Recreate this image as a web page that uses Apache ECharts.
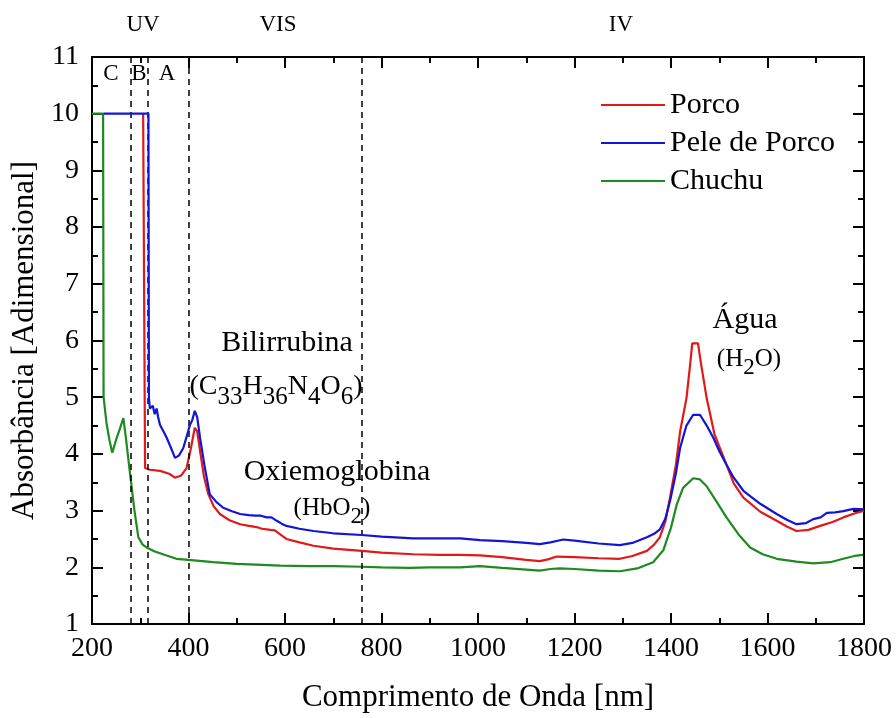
<!DOCTYPE html>
<html><head><meta charset="utf-8">
<script src="https://cdn.jsdelivr.net/npm/echarts@6/dist/echarts.min.js"></script>
<style>html,body{margin:0;padding:0;background:#fff}#c{width:896px;height:718px}</style>
</head><body><div id="c"></div>
<script>
// ---- data ----
const porcoX = [306,306,310,320,341,360,372,385,396,405,413,418,424,432,441,452,465,485,507,525,541,552,562,570,579,590,603,630,659,700,759,800,866,920,963,1004,1050,1100,1128,1145,1163,1200,1250,1294,1320,1350,1365,1377,1388,1398,1410,1419,1432,1440,1444,1456,1462,1474,1490,1515,1530,1550,1585,1619,1640,1660,1685,1709,1735,1757,1780,1800];
const porcoY = [10,10,3.75,3.72,3.70,3.65,3.58,3.62,3.75,4.10,4.46,4.40,4.05,3.60,3.29,3.08,2.94,2.83,2.76,2.73,2.71,2.68,2.67,2.66,2.65,2.58,2.50,2.44,2.38,2.33,2.29,2.26,2.23,2.22,2.22,2.21,2.18,2.13,2.11,2.14,2.19,2.18,2.16,2.15,2.20,2.29,2.40,2.53,2.80,3.23,3.80,4.40,4.98,5.60,5.95,5.95,5.60,4.98,4.35,3.81,3.48,3.23,2.98,2.82,2.72,2.64,2.66,2.73,2.80,2.88,2.95,3.00];
const peleX = [224,317,318,320,326,330,334,337,341,348,355,364,372,380,389,396,403,408,413,418,424,434,444,458,472,490,507,525,538,550,562,572,583,593,603,630,659,700,759,800,866,920,963,1004,1050,1100,1128,1150,1177,1200,1250,1294,1320,1350,1365,1377,1388,1398,1410,1419,1432,1446,1460,1474,1488,1500,1515,1530,1550,1585,1619,1640,1660,1680,1695,1710,1723,1740,1757,1778,1800];
const peleY = [10,10,4.98,4.80,4.85,4.70,4.80,4.65,4.51,4.40,4.28,4.10,3.93,3.97,4.10,4.30,4.51,4.60,4.76,4.65,4.28,3.75,3.29,3.15,3.05,2.99,2.94,2.92,2.91,2.91,2.88,2.88,2.82,2.77,2.73,2.68,2.64,2.60,2.57,2.54,2.51,2.51,2.51,2.48,2.46,2.43,2.41,2.44,2.49,2.47,2.42,2.39,2.43,2.53,2.59,2.67,2.85,3.17,3.65,4.11,4.50,4.69,4.69,4.50,4.28,4.05,3.81,3.58,3.35,3.12,2.94,2.84,2.76,2.78,2.85,2.88,2.96,2.97,2.99,3.03,3.02];
const chuchuX = [200,223,224,230,236,242,250,258,265,270,279,288,296,305,313,330,350,375,400,451,500,590,650,700,759,800,858,860,900,963,1004,1050,1100,1128,1150,1170,1200,1250,1294,1330,1363,1384,1400,1412,1425,1446,1460,1474,1495,1515,1540,1564,1590,1619,1660,1695,1730,1757,1780,1798];
const chuchuY = [10,10,5.0,4.55,4.25,4.02,4.25,4.45,4.63,4.30,3.64,3.00,2.53,2.40,2.35,2.28,2.22,2.15,2.13,2.09,2.06,2.03,2.02,2.02,2.01,2.00,1.99,2.00,2.00,2.00,2.02,1.99,1.96,1.94,1.97,1.98,1.97,1.94,1.93,1.98,2.09,2.30,2.70,3.11,3.40,3.57,3.55,3.43,3.15,2.88,2.58,2.35,2.23,2.15,2.10,2.07,2.09,2.15,2.20,2.22];
const regionLines = [280, 315, 400, 760];
const seriesNames = ['Porco', 'Pele de Porco', 'Chuchu'];

const pairs = (xs, ys) => xs.map((x, i) => [x, ys[i]]);
const FONT = 'Liberation Serif';
const chart = echarts.init(document.getElementById('c'), null, {renderer: 'canvas'});

const axisCommon = {
  axisLine: {show: true, onZero: false, lineStyle: {color: '#000', width: 2}},
  axisTick: {show: true, inside: true, length: 11, lineStyle: {color: '#000', width: 2}},
  minorTick: {show: true, splitNumber: 2, length: 6, lineStyle: {color: '#000', width: 2}},
  splitLine: {show: false}
};

chart.setOption({
  animation: false,
  backgroundColor: '#fff',
  grid: {left: 92, right: 32, top: 57, bottom: 92, containLabel: false},
  xAxis: [
    Object.assign({type: 'value', min: 200, max: 1800, interval: 200, position: 'bottom',
      name: 'Comprimento de Onda [nm]', nameLocation: 'middle', nameGap: 58,
      nameTextStyle: {fontFamily: FONT, fontSize: 31, color: '#000'},
      axisLabel: {fontFamily: FONT, fontSize: 28, color: '#000', margin: 11, formatter: v => String(v)}}, axisCommon),
    Object.assign({type: 'value', min: 200, max: 1800, interval: 200, position: 'top',
      axisLabel: {show: false}}, axisCommon)
  ],
  yAxis: [
    Object.assign({type: 'value', min: 1, max: 11, interval: 1, position: 'left',
      name: 'Absorbância [Adimensional]', nameLocation: 'middle', nameGap: 44,
      nameTextStyle: {fontFamily: FONT, fontSize: 31, color: '#000'},
      axisLabel: {fontFamily: FONT, fontSize: 28, color: '#000', margin: 13, formatter: v => String(v)}}, axisCommon),
    Object.assign({type: 'value', min: 1, max: 11, interval: 1, position: 'right',
      axisLabel: {show: false}}, axisCommon)
  ],
  legend: {
    orient: 'vertical', left: 596, top: 85, itemWidth: 64, itemHeight: 2, itemGap: 8,
    icon: 'rect',
    textStyle: {fontFamily: FONT, fontSize: 30, lineHeight: 30, color: '#000'},
    data: seriesNames
  },
  series: [
    {name: 'Chuchu', type: 'line', data: pairs(chuchuX, chuchuY), symbol: 'none',
      lineStyle: {color: '#1f8a1f', width: 2.2}, itemStyle: {color: '#1f8a1f'}, z: 3,
      markLine: {silent: true, symbol: 'none', label: {show: false},
        lineStyle: {color: '#000', type: [6, 5], width: 1.5},
        data: regionLines.map(v => ({xAxis: v}))}},
    {name: 'Porco', type: 'line', data: pairs(porcoX, porcoY), symbol: 'none',
      lineStyle: {color: '#e01919', width: 2.2}, itemStyle: {color: '#e01919'}, z: 4},
    {name: 'Pele de Porco', type: 'line', data: pairs(peleX, peleY), symbol: 'none',
      lineStyle: {color: '#1414d6', width: 2.2}, itemStyle: {color: '#1414d6'}, z: 5}
  ]
});

const txt = (x, y, text, size) => ({
  type: 'text', x: x, y: y,
  style: {text: text, fontFamily: FONT, fontSize: size, fill: '#000', align: 'center', verticalAlign: 'middle'}
});
const subRich = (size) => ({
  n: {fontFamily: FONT, fontSize: size, fill: '#000'},
  s: {fontFamily: FONT, fontSize: Math.round(size * 0.9), fill: '#000', padding: [Math.round(size*0.7), 0, 0, 0]}
});
const subTxt = (x, y, text, size) => ({
  type: 'text', x: x, y: y,
  style: {text: text, rich: subRich(size), align: 'center', verticalAlign: 'middle'}
});
chart.setOption({
  graphic: [
    txt(143, 25, 'UV', 23),
    txt(278, 25, 'VIS', 23),
    txt(621, 25, 'IV', 23),
    txt(111, 74, 'C', 23),
    txt(139, 74, 'B', 23),
    txt(167, 74, 'A', 23),
    txt(287, 343, 'Bilirrubina', 30),
    subTxt(276, 387, '{n|(C}{s|33}{n|H}{s|36}{n|N}{s|4}{n|O}{s|6}{n|)}', 28),
    txt(337, 472, 'Oxiemoglobina', 30),
    subTxt(332, 508, '{n|(HbO}{s|2}{n|)}', 25),
    txt(745, 320, 'Água', 30),
    subTxt(749, 359, '{n|(H}{s|2}{n|O)}', 25)
  ]
});
</script></body></html>
